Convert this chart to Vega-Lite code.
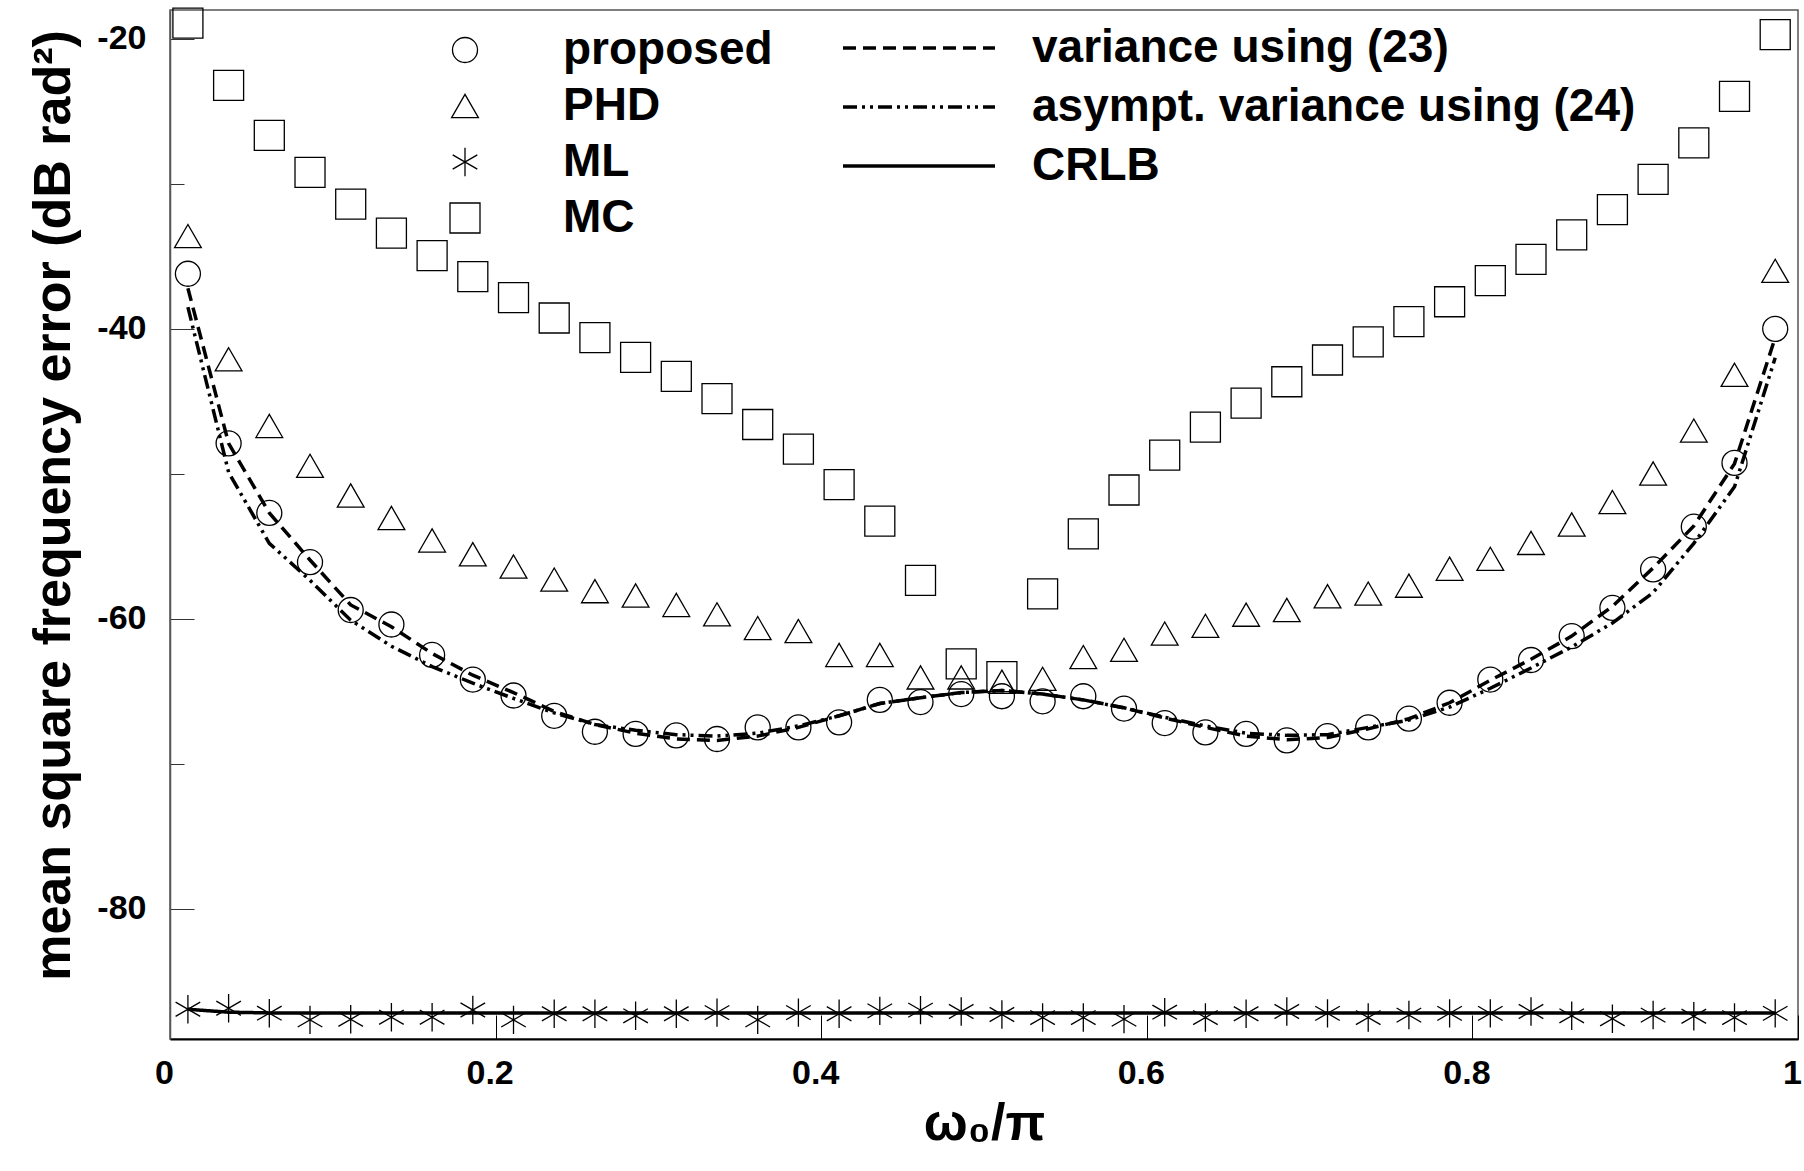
{
  "$schema": "https://vega.github.io/schema/vega-lite/v6.json",
  "width": 1628,
  "height": 1029,
  "autosize": {"type": "none"},
  "padding": {"left": 170, "top": 10, "right": 6, "bottom": 132},
  "background": "white",
  "datasets": {
    "d": [
      {"s":"proposed","x":0.011,"v":-36.2},{"s":"proposed","x":0.036,"v":-47.9},{"s":"proposed","x":0.061,"v":-52.7},{"s":"proposed","x":0.086,"v":-56.1},{"s":"proposed","x":0.111,"v":-59.4},{"s":"proposed","x":0.136,"v":-60.4},{"s":"proposed","x":0.161,"v":-62.5},{"s":"proposed","x":0.186,"v":-64.2},{"s":"proposed","x":0.211,"v":-65.3},{"s":"proposed","x":0.236,"v":-66.7},{"s":"proposed","x":0.261,"v":-67.8},{"s":"proposed","x":0.286,"v":-67.95},{"s":"proposed","x":0.311,"v":-68.05},{"s":"proposed","x":0.336,"v":-68.3},{"s":"proposed","x":0.361,"v":-67.5},{"s":"proposed","x":0.386,"v":-67.5},{"s":"proposed","x":0.411,"v":-67.15},{"s":"proposed","x":0.436,"v":-65.6},{"s":"proposed","x":0.461,"v":-65.75},{"s":"proposed","x":0.486,"v":-65.2},{"s":"proposed","x":0.511,"v":-65.35},{"s":"proposed","x":0.536,"v":-65.7},{"s":"proposed","x":0.561,"v":-65.35},{"s":"proposed","x":0.586,"v":-66.2},{"s":"proposed","x":0.611,"v":-67.2},{"s":"proposed","x":0.636,"v":-67.85},{"s":"proposed","x":0.661,"v":-67.95},{"s":"proposed","x":0.686,"v":-68.4},{"s":"proposed","x":0.711,"v":-68.1},{"s":"proposed","x":0.736,"v":-67.5},{"s":"proposed","x":0.761,"v":-66.9},{"s":"proposed","x":0.786,"v":-65.8},{"s":"proposed","x":0.811,"v":-64.2},{"s":"proposed","x":0.836,"v":-62.85},{"s":"proposed","x":0.861,"v":-61.2},{"s":"proposed","x":0.886,"v":-59.25},{"s":"proposed","x":0.911,"v":-56.6},{"s":"proposed","x":0.936,"v":-53.65},{"s":"proposed","x":0.961,"v":-49.25},{"s":"proposed","x":0.986,"v":-40.0},
      {"s":"PHD","x":0.011,"v":-33.6},{"s":"PHD","x":0.036,"v":-42.1},{"s":"PHD","x":0.061,"v":-46.7},{"s":"PHD","x":0.086,"v":-49.45},{"s":"PHD","x":0.111,"v":-51.5},{"s":"PHD","x":0.136,"v":-53.05},{"s":"PHD","x":0.161,"v":-54.6},{"s":"PHD","x":0.186,"v":-55.55},{"s":"PHD","x":0.211,"v":-56.4},{"s":"PHD","x":0.236,"v":-57.3},{"s":"PHD","x":0.261,"v":-58.1},{"s":"PHD","x":0.286,"v":-58.4},{"s":"PHD","x":0.311,"v":-59.05},{"s":"PHD","x":0.336,"v":-59.7},{"s":"PHD","x":0.361,"v":-60.65},{"s":"PHD","x":0.386,"v":-60.85},{"s":"PHD","x":0.411,"v":-62.5},{"s":"PHD","x":0.436,"v":-62.5},{"s":"PHD","x":0.461,"v":-64.05},{"s":"PHD","x":0.486,"v":-64.05},{"s":"PHD","x":0.511,"v":-64.35},{"s":"PHD","x":0.536,"v":-64.15},{"s":"PHD","x":0.561,"v":-62.65},{"s":"PHD","x":0.586,"v":-62.15},{"s":"PHD","x":0.611,"v":-61.03},{"s":"PHD","x":0.636,"v":-60.49},{"s":"PHD","x":0.661,"v":-59.72},{"s":"PHD","x":0.686,"v":-59.4},{"s":"PHD","x":0.711,"v":-58.45},{"s":"PHD","x":0.736,"v":-58.27},{"s":"PHD","x":0.761,"v":-57.72},{"s":"PHD","x":0.786,"v":-56.55},{"s":"PHD","x":0.811,"v":-55.87},{"s":"PHD","x":0.836,"v":-54.77},{"s":"PHD","x":0.861,"v":-53.5},{"s":"PHD","x":0.886,"v":-51.95},{"s":"PHD","x":0.911,"v":-49.98},{"s":"PHD","x":0.936,"v":-47.02},{"s":"PHD","x":0.961,"v":-43.17},{"s":"PHD","x":0.986,"v":-36.0},
      {"s":"ML","x":0.011,"v":-86.95},{"s":"ML","x":0.036,"v":-86.88},{"s":"ML","x":0.061,"v":-87.22},{"s":"ML","x":0.086,"v":-87.68},{"s":"ML","x":0.111,"v":-87.64},{"s":"ML","x":0.136,"v":-87.5},{"s":"ML","x":0.161,"v":-87.5},{"s":"ML","x":0.186,"v":-87.0},{"s":"ML","x":0.211,"v":-87.68},{"s":"ML","x":0.236,"v":-87.26},{"s":"ML","x":0.261,"v":-87.26},{"s":"ML","x":0.286,"v":-87.4},{"s":"ML","x":0.311,"v":-87.26},{"s":"ML","x":0.336,"v":-87.18},{"s":"ML","x":0.361,"v":-87.68},{"s":"ML","x":0.386,"v":-87.18},{"s":"ML","x":0.411,"v":-87.26},{"s":"ML","x":0.436,"v":-87.06},{"s":"ML","x":0.461,"v":-87.01},{"s":"ML","x":0.486,"v":-87.1},{"s":"ML","x":0.511,"v":-87.31},{"s":"ML","x":0.536,"v":-87.52},{"s":"ML","x":0.561,"v":-87.52},{"s":"ML","x":0.586,"v":-87.63},{"s":"ML","x":0.611,"v":-87.15},{"s":"ML","x":0.636,"v":-87.52},{"s":"ML","x":0.661,"v":-87.26},{"s":"ML","x":0.686,"v":-87.1},{"s":"ML","x":0.711,"v":-87.23},{"s":"ML","x":0.736,"v":-87.52},{"s":"ML","x":0.761,"v":-87.35},{"s":"ML","x":0.786,"v":-87.23},{"s":"ML","x":0.811,"v":-87.23},{"s":"ML","x":0.836,"v":-87.1},{"s":"ML","x":0.861,"v":-87.4},{"s":"ML","x":0.886,"v":-87.6},{"s":"ML","x":0.911,"v":-87.35},{"s":"ML","x":0.936,"v":-87.43},{"s":"ML","x":0.961,"v":-87.52},{"s":"ML","x":0.986,"v":-87.23},
      {"s":"MC","x":0.011,"v":-18.9},{"s":"MC","x":0.036,"v":-23.2},{"s":"MC","x":0.061,"v":-26.65},{"s":"MC","x":0.086,"v":-29.2},{"s":"MC","x":0.111,"v":-31.4},{"s":"MC","x":0.136,"v":-33.4},{"s":"MC","x":0.161,"v":-34.95},{"s":"MC","x":0.186,"v":-36.4},{"s":"MC","x":0.211,"v":-37.85},{"s":"MC","x":0.236,"v":-39.25},{"s":"MC","x":0.261,"v":-40.6},{"s":"MC","x":0.286,"v":-41.97},{"s":"MC","x":0.311,"v":-43.28},{"s":"MC","x":0.336,"v":-44.82},{"s":"MC","x":0.361,"v":-46.6},{"s":"MC","x":0.386,"v":-48.3},{"s":"MC","x":0.411,"v":-50.75},{"s":"MC","x":0.436,"v":-53.27},{"s":"MC","x":0.461,"v":-57.35},{"s":"MC","x":0.486,"v":-63.12},{"s":"MC","x":0.511,"v":-64.0},{"s":"MC","x":0.536,"v":-58.28},{"s":"MC","x":0.561,"v":-54.15},{"s":"MC","x":0.586,"v":-51.12},{"s":"MC","x":0.611,"v":-48.72},{"s":"MC","x":0.636,"v":-46.78},{"s":"MC","x":0.661,"v":-45.12},{"s":"MC","x":0.686,"v":-43.65},{"s":"MC","x":0.711,"v":-42.15},{"s":"MC","x":0.736,"v":-40.9},{"s":"MC","x":0.761,"v":-39.5},{"s":"MC","x":0.786,"v":-38.13},{"s":"MC","x":0.811,"v":-36.67},{"s":"MC","x":0.836,"v":-35.2},{"s":"MC","x":0.861,"v":-33.52},{"s":"MC","x":0.886,"v":-31.78},{"s":"MC","x":0.911,"v":-29.68},{"s":"MC","x":0.936,"v":-27.17},{"s":"MC","x":0.961,"v":-23.96},{"s":"MC","x":0.986,"v":-19.7},
      {"s":"variance using (23)","x":0.011,"v":-37.2},{"s":"variance using (23)","x":0.036,"v":-47.9},{"s":"variance using (23)","x":0.061,"v":-52.7},{"s":"variance using (23)","x":0.086,"v":-55.95},{"s":"variance using (23)","x":0.111,"v":-59.05},{"s":"variance using (23)","x":0.136,"v":-60.55},{"s":"variance using (23)","x":0.161,"v":-62.4},{"s":"variance using (23)","x":0.186,"v":-63.9},{"s":"variance using (23)","x":0.211,"v":-65.1},{"s":"variance using (23)","x":0.236,"v":-66.4},{"s":"variance using (23)","x":0.261,"v":-67.3},{"s":"variance using (23)","x":0.286,"v":-67.9},{"s":"variance using (23)","x":0.311,"v":-68.3},{"s":"variance using (23)","x":0.336,"v":-68.4},{"s":"variance using (23)","x":0.361,"v":-68.1},{"s":"variance using (23)","x":0.386,"v":-67.5},{"s":"variance using (23)","x":0.411,"v":-66.7},{"s":"variance using (23)","x":0.436,"v":-65.85},{"s":"variance using (23)","x":0.461,"v":-65.45},{"s":"variance using (23)","x":0.486,"v":-65.1},{"s":"variance using (23)","x":0.511,"v":-64.95},{"s":"variance using (23)","x":0.536,"v":-65.2},{"s":"variance using (23)","x":0.561,"v":-65.6},{"s":"variance using (23)","x":0.586,"v":-66.15},{"s":"variance using (23)","x":0.611,"v":-66.85},{"s":"variance using (23)","x":0.636,"v":-67.5},{"s":"variance using (23)","x":0.661,"v":-68.1},{"s":"variance using (23)","x":0.686,"v":-68.35},{"s":"variance using (23)","x":0.711,"v":-68.2},{"s":"variance using (23)","x":0.736,"v":-67.6},{"s":"variance using (23)","x":0.761,"v":-66.9},{"s":"variance using (23)","x":0.786,"v":-65.8},{"s":"variance using (23)","x":0.811,"v":-64.25},{"s":"variance using (23)","x":0.836,"v":-62.8},{"s":"variance using (23)","x":0.861,"v":-61.2},{"s":"variance using (23)","x":0.886,"v":-59.15},{"s":"variance using (23)","x":0.911,"v":-56.5},{"s":"variance using (23)","x":0.936,"v":-53.6},{"s":"variance using (23)","x":0.961,"v":-49.3},{"s":"variance using (23)","x":0.986,"v":-40.6},
      {"s":"asympt. variance using (24)","x":0.011,"v":-38.5},{"s":"asympt. variance using (24)","x":0.036,"v":-49.9},{"s":"asympt. variance using (24)","x":0.061,"v":-54.8},{"s":"asympt. variance using (24)","x":0.086,"v":-57.35},{"s":"asympt. variance using (24)","x":0.111,"v":-60.1},{"s":"asympt. variance using (24)","x":0.136,"v":-61.9},{"s":"asympt. variance using (24)","x":0.161,"v":-63.3},{"s":"asympt. variance using (24)","x":0.186,"v":-64.45},{"s":"asympt. variance using (24)","x":0.211,"v":-65.5},{"s":"asympt. variance using (24)","x":0.236,"v":-66.5},{"s":"asympt. variance using (24)","x":0.261,"v":-67.3},{"s":"asympt. variance using (24)","x":0.286,"v":-67.7},{"s":"asympt. variance using (24)","x":0.311,"v":-68.0},{"s":"asympt. variance using (24)","x":0.336,"v":-68.1},{"s":"asympt. variance using (24)","x":0.361,"v":-67.9},{"s":"asympt. variance using (24)","x":0.386,"v":-67.4},{"s":"asympt. variance using (24)","x":0.411,"v":-66.7},{"s":"asympt. variance using (24)","x":0.436,"v":-65.85},{"s":"asympt. variance using (24)","x":0.461,"v":-65.45},{"s":"asympt. variance using (24)","x":0.486,"v":-65.1},{"s":"asympt. variance using (24)","x":0.511,"v":-64.95},{"s":"asympt. variance using (24)","x":0.536,"v":-65.2},{"s":"asympt. variance using (24)","x":0.561,"v":-65.6},{"s":"asympt. variance using (24)","x":0.586,"v":-66.15},{"s":"asympt. variance using (24)","x":0.611,"v":-66.8},{"s":"asympt. variance using (24)","x":0.636,"v":-67.4},{"s":"asympt. variance using (24)","x":0.661,"v":-67.9},{"s":"asympt. variance using (24)","x":0.686,"v":-68.05},{"s":"asympt. variance using (24)","x":0.711,"v":-68.0},{"s":"asympt. variance using (24)","x":0.736,"v":-67.5},{"s":"asympt. variance using (24)","x":0.761,"v":-67.0},{"s":"asympt. variance using (24)","x":0.786,"v":-66.1},{"s":"asympt. variance using (24)","x":0.811,"v":-64.8},{"s":"asympt. variance using (24)","x":0.836,"v":-63.4},{"s":"asympt. variance using (24)","x":0.861,"v":-61.95},{"s":"asympt. variance using (24)","x":0.886,"v":-60.3},{"s":"asympt. variance using (24)","x":0.911,"v":-58.2},{"s":"asympt. variance using (24)","x":0.936,"v":-54.8},{"s":"asympt. variance using (24)","x":0.961,"v":-50.9},{"s":"asympt. variance using (24)","x":0.986,"v":-42.0},
      {"s":"CRLB","x":0.011,"v":-86.95},{"s":"CRLB","x":0.036,"v":-87.15},{"s":"CRLB","x":0.061,"v":-87.2},{"s":"CRLB","x":0.086,"v":-87.2},{"s":"CRLB","x":0.111,"v":-87.2},{"s":"CRLB","x":0.136,"v":-87.2},{"s":"CRLB","x":0.161,"v":-87.2},{"s":"CRLB","x":0.186,"v":-87.2},{"s":"CRLB","x":0.211,"v":-87.2},{"s":"CRLB","x":0.236,"v":-87.2},{"s":"CRLB","x":0.261,"v":-87.2},{"s":"CRLB","x":0.286,"v":-87.2},{"s":"CRLB","x":0.311,"v":-87.2},{"s":"CRLB","x":0.336,"v":-87.2},{"s":"CRLB","x":0.361,"v":-87.2},{"s":"CRLB","x":0.386,"v":-87.2},{"s":"CRLB","x":0.411,"v":-87.2},{"s":"CRLB","x":0.436,"v":-87.2},{"s":"CRLB","x":0.461,"v":-87.2},{"s":"CRLB","x":0.486,"v":-87.2},{"s":"CRLB","x":0.511,"v":-87.2},{"s":"CRLB","x":0.536,"v":-87.2},{"s":"CRLB","x":0.561,"v":-87.2},{"s":"CRLB","x":0.586,"v":-87.2},{"s":"CRLB","x":0.611,"v":-87.2},{"s":"CRLB","x":0.636,"v":-87.2},{"s":"CRLB","x":0.661,"v":-87.2},{"s":"CRLB","x":0.686,"v":-87.2},{"s":"CRLB","x":0.711,"v":-87.2},{"s":"CRLB","x":0.736,"v":-87.2},{"s":"CRLB","x":0.761,"v":-87.2},{"s":"CRLB","x":0.786,"v":-87.2},{"s":"CRLB","x":0.811,"v":-87.2},{"s":"CRLB","x":0.836,"v":-87.2},{"s":"CRLB","x":0.861,"v":-87.2},{"s":"CRLB","x":0.886,"v":-87.2},{"s":"CRLB","x":0.911,"v":-87.2},{"s":"CRLB","x":0.936,"v":-87.2},{"s":"CRLB","x":0.961,"v":-87.2},{"s":"CRLB","x":0.986,"v":-87.2}
    ]
  },
  "data": {"name": "d"},
  "layer": [
    {
      "transform": [{"filter": {"field": "s", "oneOf": ["variance using (23)", "asympt. variance using (24)", "CRLB"]}}],
      "mark": {"type": "line", "color": "black", "strokeCap": "butt"},
      "encoding": {
        "x": {
          "field": "x", "type": "quantitative",
          "scale": {"domain": [0, 1], "nice": false, "zero": false},
          "axis": {
            "values": [0, 0.2, 0.4, 0.6, 0.8, 1],
            "labelExpr": "'' + datum.value",
            "tickSize": -24,
            "labelPadding": 41,
            "labelOffset": -6,
            "domainWidth": 2,
            "title": "ω₀/π",
            "titlePadding": 8
          }
        },
        "y": {
          "field": "v", "type": "quantitative",
          "scale": {"domain": [-89, -18], "nice": false, "zero": false},
          "axis": {
            "values": [-80, -70, -60, -50, -40, -30, -20],
            "labelExpr": "datum.value % 20 === 0 ? '' + datum.value : ''",
            "tickSize": {"condition": {"test": "datum.value % 20 === 0", "value": -24}, "value": -14},
            "labelPadding": 48,
            "domainColor": "#555",
            "tickColor": "#333",
            "title": "mean square frequency error (dB rad²)",
            "titleFontSize": 52,
            "titleY": 495,
            "titlePadding": 16
          }
        },
        "strokeDash": {
          "field": "s", "type": "nominal",
          "scale": {"domain": ["variance using (23)", "asympt. variance using (24)", "CRLB"], "range": [[13, 7], [14, 5, 3, 5, 3, 5], [1, 0]]},
          "legend": {
            "title": null, "orient": "none", "legendX": 726, "legendY": 15,
            "symbolType": "M-5,0L5,0", "symbolSize": 924, "symbolStrokeWidth": 3.5,
            "symbolStrokeColor": "black", "labelOffset": 90, "rowPadding": 13, "padding": 0
          }
        },
        "strokeWidth": {
          "field": "s", "type": "nominal",
          "scale": {"domain": ["variance using (23)", "asympt. variance using (24)", "CRLB"], "range": [3.5, 3.5, 4.5]},
          "legend": null
        }
      }
    },
    {
      "transform": [{"filter": {"field": "s", "oneOf": ["proposed", "PHD", "ML", "MC"]}}],
      "mark": {"type": "point", "filled": false, "color": "black", "strokeWidth": 1.3, "opacity": 1},
      "encoding": {
        "x": {"field": "x", "type": "quantitative"},
        "y": {"field": "v", "type": "quantitative"},
        "shape": {
          "field": "s", "type": "nominal",
          "scale": {"domain": ["proposed", "PHD", "ML", "MC"], "range": ["circle", "triangle-up", "M0,-1L0,1M-0.866,-0.5L0.866,0.5M-0.866,0.5L0.866,-0.5", "square"]},
          "legend": {"title": null, "orient": "none", "legendX": 272, "legendY": 17, "labelOffset": 75, "rowPadding": 10, "padding": 0, "symbolStrokeWidth": 1.3, "symbolStrokeColor": "black"}
        },
        "size": {
          "field": "s", "type": "nominal",
          "scale": {"domain": ["proposed", "PHD", "ML", "MC"], "range": [625, 900, 625, 590]},
          "legend": {"title": null, "orient": "none", "legendX": 272, "legendY": 17, "labelOffset": 75, "rowPadding": 10, "padding": 0, "symbolStrokeWidth": 1.3, "symbolStrokeColor": "black"}
        }
      }
    }
  ],
  "config": {
    "font": "Liberation Sans",
    "view": {"stroke": "#555", "strokeWidth": 1.5},
    "axis": {
      "labelFont": "Liberation Sans", "labelFontWeight": "bold", "labelFontSize": 34, "labelColor": "black",
      "titleFont": "Liberation Sans", "titleFontWeight": "bold", "titleFontSize": 52, "titleColor": "black",
      "grid": false, "tickColor": "black", "tickWidth": 1, "domainColor": "black", "domainWidth": 1.5,
      "labelFlush": false, "labelOverlap": false
    },
    "legend": {
      "labelFont": "Liberation Sans", "labelFontWeight": "bold", "labelFontSize": 46, "labelColor": "black", "labelLimit": 1000
    }
  }
}
